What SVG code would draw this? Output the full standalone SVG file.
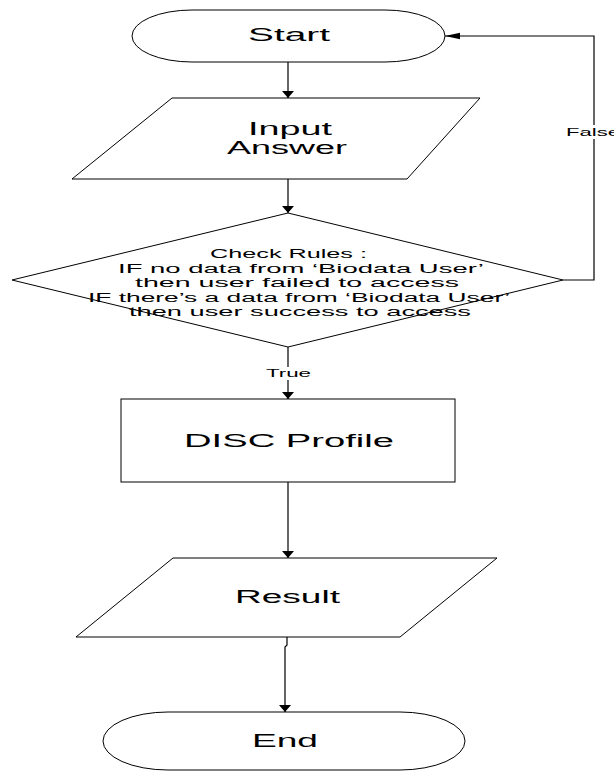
<svg xmlns="http://www.w3.org/2000/svg" width="614" height="771" viewBox="0 0 614 771">
<style>
.shape{fill:#fff;stroke:#000;stroke-width:1}
.conn{fill:none;stroke:#000;stroke-width:1.2}
.t{font-family:"Liberation Sans",Arial,sans-serif;fill:#000}
.big{font-size:17.5px}
.mid{font-size:12px}
.small{font-size:11px}
</style>
<defs>
<marker id="arrV" markerUnits="userSpaceOnUse" markerWidth="10" markerHeight="14" refX="7" refY="0" viewBox="0 -7 8 14" orient="auto">
<path d="M0,-6 L7,0 L0,6 Z" fill="#000"/>
</marker>
<marker id="arrH" markerUnits="userSpaceOnUse" markerWidth="16" markerHeight="8" refX="15" refY="0" viewBox="0 -4 16 8" orient="auto">
<path d="M0,-3.2 L15,0 L0,3.2 Z" fill="#000"/>
</marker>
</defs>
<rect width="614" height="771" fill="#fff"/>

<g id="connectors">
<line class="conn" x1="288" y1="62" x2="288" y2="98" marker-end="url(#arrV)"/>
<line class="conn" x1="288" y1="179" x2="288" y2="213" marker-end="url(#arrV)"/>
<line class="conn" x1="288" y1="347" x2="288" y2="399" marker-end="url(#arrV)"/>
<line class="conn" x1="288" y1="482" x2="288" y2="558" marker-end="url(#arrV)"/>
<polyline class="conn" points="287,637 287,645 285,647 285,712" marker-end="url(#arrV)"/>
<polyline class="conn" points="563,280 594,280 594,36 445,36" marker-end="url(#arrH)"/>
<rect x="264" y="367" width="49" height="13" fill="#fff"/>
<text class="t small" x="266" y="377" textLength="45" lengthAdjust="spacingAndGlyphs">True</text>
<rect x="563" y="125" width="51" height="14" fill="#fff"/>
<text class="t small" x="566" y="136" textLength="54" lengthAdjust="spacingAndGlyphs">False</text>
</g>

<g id="start">
<rect class="shape" x="132" y="10" width="313" height="52" rx="60" ry="26"/>
<text class="t big" x="248" y="41" textLength="82" lengthAdjust="spacingAndGlyphs">Start</text>
</g>

<g id="input">
<polygon class="shape" points="172,98 480,98 407,179 72,179"/>
<text class="t big" x="248" y="135" textLength="84" lengthAdjust="spacingAndGlyphs">Input</text>
<text class="t big" x="227" y="154" textLength="120" lengthAdjust="spacingAndGlyphs">Answer</text>
</g>

<g id="check">
<polygon class="shape" points="288,213 563,280 288,347 12,280"/>
<text class="t mid" x="210" y="258" textLength="157" lengthAdjust="spacingAndGlyphs">Check Rules :</text>
<text class="t mid" x="118" y="273" textLength="366" lengthAdjust="spacingAndGlyphs">IF no data from ‘Biodata User’</text>
<text class="t mid" x="135" y="287" textLength="324" lengthAdjust="spacingAndGlyphs">then user failed to access</text>
<text class="t mid" x="88" y="302" textLength="422" lengthAdjust="spacingAndGlyphs">IF there’s a data from ‘Biodata User’</text>
<text class="t mid" x="129" y="316" textLength="342" lengthAdjust="spacingAndGlyphs">then user success to access</text>
</g>

<g id="disc">
<rect class="shape" x="121" y="399" width="334" height="83"/>
<text class="t big" x="184" y="447" textLength="210" lengthAdjust="spacingAndGlyphs">DISC Profile</text>
</g>

<g id="result">
<polygon class="shape" points="173,558 497,558 400,637 76,637"/>
<text class="t big" x="235" y="603" textLength="105" lengthAdjust="spacingAndGlyphs">Result</text>
</g>

<g id="end">
<rect class="shape" x="103" y="712" width="362" height="58" rx="65" ry="29"/>
<text class="t big" x="252" y="747" textLength="66" lengthAdjust="spacingAndGlyphs">End</text>
</g>
</svg>
